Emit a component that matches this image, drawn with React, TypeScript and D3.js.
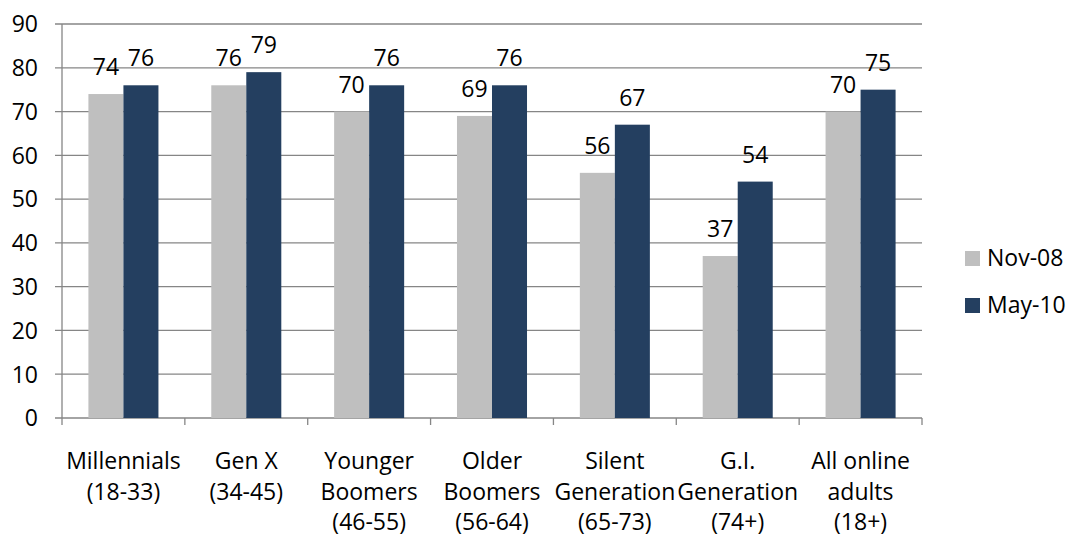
import React from "react";
import * as d3 from "d3";

const categories: string[][] = [
  ["Millennials", "(18-33)"],
  ["Gen X", "(34-45)"],
  ["Younger", "Boomers", "(46-55)"],
  ["Older", "Boomers", "(56-64)"],
  ["Silent", "Generation", "(65-73)"],
  ["G.I.", "Generation", "(74+)"],
  ["All online", "adults", "(18+)"],
];
const seriesNames = ["Nov-08", "May-10"];
const nov08 = [74, 76, 70, 69, 56, 37, 70];
const may10 = [76, 79, 76, 76, 67, 54, 75];
const yTicks = [0, 10, 20, 30, 40, 50, 60, 70, 80, 90];
const colors = ["#BFBFBF", "#243F60"];

export default function App() {
  const W = 1071, H = 538;
  const left = 62, right = 922, top = 24, bottom = 418;
  const font = "'Open Sans', sans-serif";
  const fs = 23;
  const keys = categories.map((c) => c.join(" "));
  const x = d3.scaleBand<string>().domain(keys).range([left, right]).paddingInner(0.43).paddingOuter(0.215);
  const xs = d3.scaleBand<string>().domain(seriesNames).range([0, x.bandwidth()]);
  const y = d3.scaleLinear().domain([0, 90]).range([bottom, top]);
  const step = x.step();
  const data = [nov08, may10];
  const axisColor = "#868686";
  return (
    <svg width={W} height={H} style={{ position: "absolute", left: 0, top: 0 }} fontFamily={font}>
      <rect width={W} height={H} fill="#fff" />
      {yTicks.map((t) => (
        <g key={t}>
          <line x1={left - 7} x2={right} y1={y(t)} y2={y(t)} stroke={axisColor} strokeWidth={1.3} />
          <text x={38} y={y(t)} dy="0.36em" textAnchor="end" fontSize={fs} fill="#000">{t}</text>
        </g>
      ))}
      <line x1={left} x2={left} y1={top} y2={bottom} stroke={axisColor} strokeWidth={1.3} />
      {d3.range(categories.length + 1).map((i) => (
        <line key={i} x1={left + i * step} x2={left + i * step} y1={bottom} y2={bottom + 7} stroke={axisColor} strokeWidth={1.3} />
      ))}
      {keys.map((k, i) => (
        <g key={k}>
          {seriesNames.map((s, j) => {
            const v = data[j][i];
            const bx = (x(k) as number) + (xs(s) as number);
            return (
              <g key={s}>
                <rect x={bx} y={y(v)} width={xs.bandwidth()} height={bottom - y(v)} fill={colors[j]} />
                <text x={bx + xs.bandwidth() / 2} y={y(v) - 19} textAnchor="middle" fontSize={fs} fill="#000">{v}</text>
              </g>
            );
          })}
          {categories[i].map((line, li) => (
            <text key={li} x={(x(k) as number) + x.bandwidth() / 2} y={469 + li * 30.5} textAnchor="middle" fontSize={fs} fill="#000">{line}</text>
          ))}
        </g>
      ))}
      {seriesNames.map((s, j) => (
        <g key={s}>
          <rect x={965} y={251 + j * 47} width={15} height={15} fill={colors[j]} />
          <text x={987} y={266 + j * 47} fontSize={fs} fill="#000">{s}</text>
        </g>
      ))}
    </svg>
  );
}
